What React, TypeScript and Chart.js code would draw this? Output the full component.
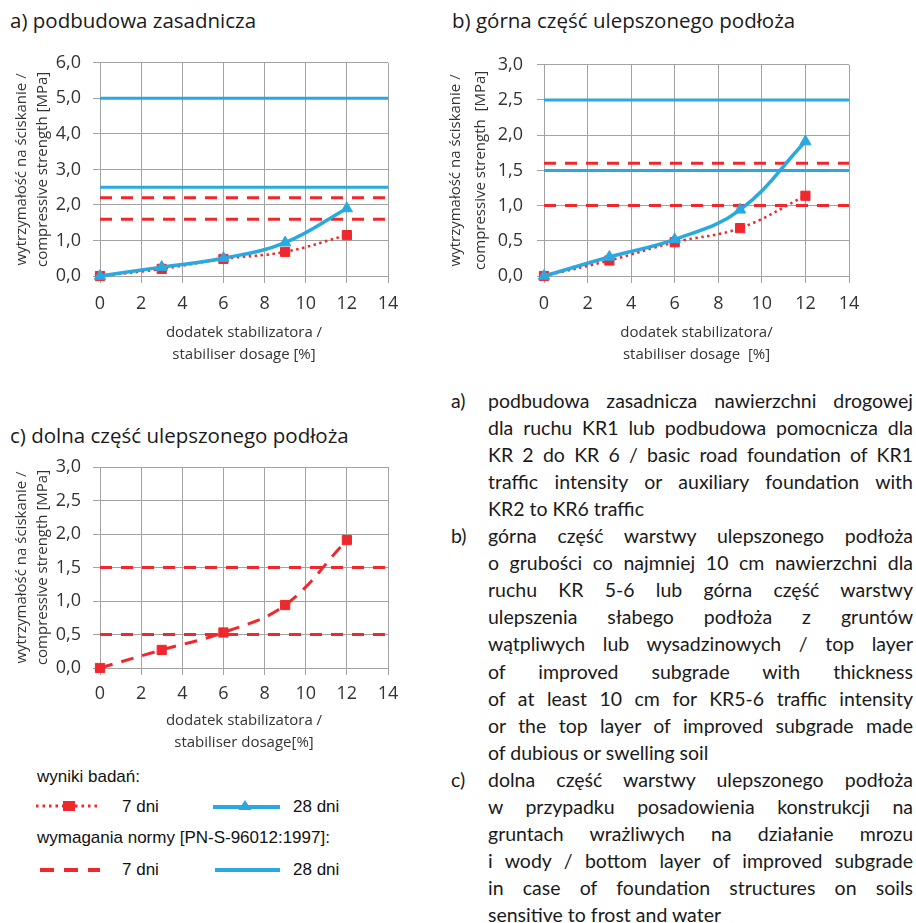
import React, { useEffect, useRef } from 'react';
import { Chart, registerables } from 'chart.js';
Chart.register(...registerables);

const FONT = "'Open Sans', sans-serif";
const BODY_FONT = "Lato, 'Open Sans', sans-serif";
const BLUE = '#2aa9e0';
const RED = '#f0282d';
const GRID = '#a3a3a3';
const TICK = '#333333';

// x axis (stabiliser dosage, %)
const dosage = [0, 3, 6, 9, 12];
const xMin = 0;
const xMax = 14;
const xStep = 2;

// a) podbudowa zasadnicza
const aTest7 = [0, 0.2, 0.48, 0.68, 1.15];
const aTest28 = [0, 0.25, 0.5, 0.94, 1.9];
const aNorm7 = [2.2, 1.6];
const aNorm28 = [5.0, 2.5];
const aYMax = 6;
const aYStep = 1;

// b) górna część ulepszonego podłoża
const bTest7 = [0, 0.22, 0.48, 0.68, 1.14];
const bTest28 = [0, 0.27, 0.52, 0.94, 1.91];
const bNorm7 = [1.6, 1.0];
const bNorm28 = [2.5, 1.5];
const bYMax = 3;
const bYStep = 0.5;

// c) dolna część ulepszonego podłoża
const cTest = [0, 0.27, 0.53, 0.94, 1.91];
const cNorm = [1.5, 0.5];
const cYMax = 3;
const cYStep = 0.5;

const pts = (ys: number[]) => dosage.map((x, i) => ({ x, y: ys[i] }));

const normLine = (v: number, color: string, dashed: boolean, order: number) => ({
  data: [{ x: xMin, y: v }, { x: xMax, y: v }],
  borderColor: color,
  backgroundColor: color,
  borderWidth: 3,
  borderDash: dashed ? [12, 9] : [],
  pointRadius: 0,
  tension: 0,
  order,
});

const test28Set = (ys: number[]) => ({
  data: pts(ys),
  borderColor: BLUE,
  backgroundColor: BLUE,
  borderWidth: 3.5,
  pointStyle: 'triangle',
  pointRadius: 6.5,
  pointBorderWidth: 1,
  pointBackgroundColor: BLUE,
  pointBorderColor: BLUE,
  tension: 0.4,
  clip: false,
  order: 0,
});

const test7Set = (ys: number[], dash: number[], width: number) => ({
  data: pts(ys),
  borderColor: RED,
  backgroundColor: RED,
  borderWidth: width,
  borderDash: dash,
  pointStyle: 'rect',
  pointRadius: 6.5,
  pointBorderWidth: 1,
  pointBackgroundColor: RED,
  pointBorderColor: RED,
  tension: 0.4,
  clip: false,
  order: 1,
});

type Geo = {
  padTop: number;
  padRight: number;
  yWidth: number;
  xHeight: number;
  yMax: number;
  yStep: number;
  yTitle: string[];
  yTitleLH: number;
  yTitlePad: number;
  yTickPad: number;
  xTitle: string[];
  xTitlePad: number;
  xTickPad: number;
};

function makeConfig(datasets: any[], g: Geo): any {
  return {
    type: 'line',
    data: { datasets },
    options: {
      responsive: false,
      animation: false,
      layout: { padding: { left: 0, top: g.padTop, right: g.padRight, bottom: 0 } },
      plugins: { legend: { display: false }, tooltip: { enabled: false }, title: { display: false } },
      scales: {
        x: {
          type: 'linear',
          min: xMin,
          max: xMax,
          afterFit: (s: any) => { s.height = g.xHeight; },
          grid: { color: GRID, lineWidth: 1, tickLength: 7, tickColor: GRID },
          border: { color: GRID, width: 1 },
          ticks: { stepSize: xStep, color: TICK, padding: g.xTickPad, font: { family: FONT, size: 18 }, maxRotation: 0 },
          title: {
            display: true,
            text: g.xTitle,
            color: TICK,
            font: { family: FONT, size: 15, lineHeight: 1.47 },
            padding: { top: 0, bottom: g.xTitlePad },
          },
        },
        y: {
          type: 'linear',
          min: 0,
          max: g.yMax,
          afterFit: (s: any) => { s.width = g.yWidth; },
          grid: { color: GRID, lineWidth: 1, tickLength: 7, tickColor: GRID },
          border: { color: GRID, width: 1 },
          ticks: {
            stepSize: g.yStep,
            color: TICK,
            padding: g.yTickPad,
            font: { family: FONT, size: 18 },
            callback: (v: number) => v.toFixed(1).replace('.', ','),
          },
          title: {
            display: true,
            text: g.yTitle,
            color: TICK,
            font: { family: FONT, size: 15, lineHeight: g.yTitleLH / 15 },
            padding: { top: g.yTitlePad, bottom: 0 },
          },
        },
      },
    },
  };
}

function ChartBox({ left, top, width, height, config }: any) {
  const ref = useRef<HTMLCanvasElement | null>(null);
  useEffect(() => {
    const c = new Chart(ref.current as HTMLCanvasElement, config);
    return () => c.destroy();
  }, []);
  return (
    <canvas
      ref={ref}
      width={width}
      height={height}
      style={{ position: 'absolute', left, top, width, height }}
    />
  );
}

const yTitleAC = ['wytrzymałość na ściskanie /', 'compressive strength [MPa]'];

const configA = makeConfig(
  [
    test28Set(aTest28),
    test7Set(aTest7, [2.5, 3.5], 2.5),
    ...aNorm28.map((v) => normLine(v, BLUE, false, 2)),
    ...aNorm7.map((v) => normLine(v, RED, true, 3)),
  ],
  {
    padTop: 20, padRight: 37, yWidth: 100, xHeight: 99, yMax: aYMax, yStep: aYStep,
    yTitle: yTitleAC, yTitleLH: 21, yTitlePad: 11.5, yTickPad: 12,
    xTitle: ['dodatek stabilizatora /', 'stabiliser dosage [%]'], xTitlePad: 9, xTickPad: 10,
  }
);

const configB = makeConfig(
  [
    test28Set(bTest28),
    test7Set(bTest7, [2.5, 3.5], 2.5),
    ...bNorm28.map((v) => normLine(v, BLUE, false, 2)),
    ...bNorm7.map((v) => normLine(v, RED, true, 3)),
  ],
  {
    padTop: 20, padRight: 31, yWidth: 104, xHeight: 99, yMax: bYMax, yStep: bYStep,
    yTitle: ['wytrzymałość na ściskanie /', 'compressive strength  [MPa]'], yTitleLH: 25, yTitlePad: 3.5, yTickPad: 14,
    xTitle: ['dodatek stabilizatora/', 'stabiliser dosage  [%]'], xTitlePad: 9, xTickPad: 10,
  }
);

const configC = makeConfig(
  [
    test7Set(cTest, [13, 9], 3),
    ...cNorm.map((v) => normLine(v, RED, true, 3)),
  ],
  {
    padTop: 27, padRight: 37, yWidth: 100, xHeight: 92, yMax: cYMax, yStep: cYStep,
    yTitle: yTitleAC, yTitleLH: 21, yTitlePad: 11.5, yTickPad: 12,
    xTitle: ['dodatek stabilizatora /', 'stabiliser dosage[%]'], xTitlePad: 6, xTickPad: 8,
  }
);

const paraA = [
  'podbudowa zasadnicza nawierzchni drogowej',
  'dla ruchu KR1 lub podbudowa pomocnicza dla',
  'KR 2 do KR 6 / basic road foundation of KR1',
  'traffic intensity or auxiliary foundation with',
  'KR2 to KR6 traffic',
];
const paraB = [
  'górna część warstwy ulepszonego podłoża',
  'o grubości co najmniej 10 cm nawierzchni dla',
  'ruchu KR 5-6 lub górna część warstwy',
  'ulepszenia słabego podłoża z gruntów',
  'wątpliwych lub wysadzinowych / top layer',
  'of improved subgrade with thickness',
  'of at least 10 cm for KR5-6 traffic intensity',
  'or the top layer of improved subgrade made',
  'of dubious or swelling soil',
];
const paraC = [
  'dolna część warstwy ulepszonego podłoża',
  'w przypadku posadowienia konstrukcji na',
  'gruntach wrażliwych na działanie mrozu',
  'i wody / bottom layer of improved subgrade',
  'in case of foundation structures on soils',
  'sensitive to frost and water',
];

const LH = 27.1;

function TextBlock() {
  const paras: [string, string[]][] = [['a)', paraA], ['b)', paraB], ['c)', paraC]];
  let idx = 0;
  const out: any[] = [];
  paras.forEach(([label, lines]) => {
    const top0 = 386.5 + idx * LH;
    out.push(
      <div key={label} style={{ position: 'absolute', left: 451, top: top0, lineHeight: LH + 'px' }}>
        {label}
      </div>
    );
    lines.forEach((ln, i) => {
      const last = i === lines.length - 1;
      out.push(
        <div
          key={label + i}
          style={{
            position: 'absolute',
            left: 488,
            top: 386.5 + (idx + i) * LH,
            width: 425,
            lineHeight: LH + 'px',
            textAlign: 'justify',
            textAlignLast: last ? 'left' : 'justify',
          } as any}
        >
          {ln}
        </div>
      );
    });
    idx += lines.length;
  });
  return <div style={{ fontFamily: BODY_FONT, fontSize: 19.5, color: '#1a1a1a' }}>{out}</div>;
}

function Legend() {
  const lf = "'Liberation Sans', Arial, sans-serif";
  const t = (text: string, left: number, cy: number) => (
    <div style={{ position: 'absolute', left, top: cy - 11, lineHeight: '22px', fontFamily: lf, fontSize: 17, color: '#111' }}>
      {text}
    </div>
  );
  return (
    <>
      {t('wyniki badań:', 37, 777)}
      {t('7 dni', 122, 807)}
      {t('28 dni', 293, 807)}
      {t('wymagania normy [PN-S-96012:1997]:', 37, 838)}
      {t('7 dni', 122, 870)}
      {t('28 dni', 293, 870)}
      <svg style={{ position: 'absolute', left: 0, top: 790 }} width={300} height={100}>
        <line x1={36} y1={16} x2={99} y2={16} stroke={RED} strokeWidth={3} strokeDasharray="2.5 4" />
        <rect x={63} y={11} width={12} height={10} fill={RED} />
        <line x1={213} y1={17} x2={280} y2={17} stroke={BLUE} strokeWidth={4} />
        <polygon points="245,10 251.5,20 238.5,20" fill={BLUE} />
        <line x1={40} y1={80} x2={100} y2={80} stroke={RED} strokeWidth={4} strokeDasharray="14 10" />
        <line x1={215} y1={80} x2={280} y2={80} stroke={BLUE} strokeWidth={4} />
      </svg>
    </>
  );
}

export default function App() {
  const head = (text: string, left: number, cy: number) => (
    <div style={{ position: 'absolute', left, top: cy - 13, lineHeight: '26px', fontSize: 20.5, color: '#1a1a1a' }}>
      {text}
    </div>
  );
  return (
    <div
      style={{
        position: 'absolute',
        left: 0,
        top: 0,
        width: 916,
        height: 923,
        background: '#ffffff',
        fontFamily: FONT,
        fontSize: 17,
        color: '#1a1a1a',
        overflow: 'hidden',
      }}
    >
      {head('a) podbudowa zasadnicza', 10, 20)}
      {head('b) górna część ulepszonego podłoża', 452, 20)}
      {head('c) dolna część ulepszonego podłoża', 10, 435)}
      <ChartBox left={0} top={40} width={425} height={335} config={configA} />
      <ChartBox left={440} top={40} width={440} height={335} config={configB} />
      <ChartBox left={0} top={440} width={425} height={320} config={configC} />
      <Legend />
      <TextBlock />
    </div>
  );
}
